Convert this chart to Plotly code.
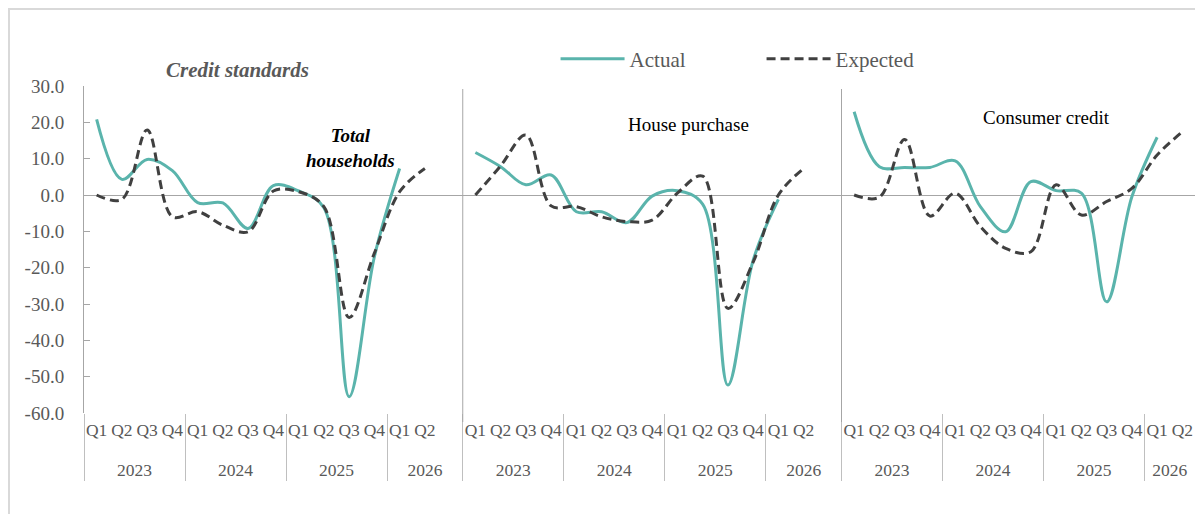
import plotly.graph_objects as go

# ---- data ----
quarters = ["Q1", "Q2", "Q3", "Q4", "Q1", "Q2", "Q3", "Q4", "Q1", "Q2", "Q3", "Q4", "Q1", "Q2"]
years = ["2023"] * 4 + ["2024"] * 4 + ["2025"] * 4 + ["2026"] * 2
panel_names = ["Total households", "House purchase", "Consumer credit"]

actual_total = [20.8, 4.3, 9.8, 6.7, -2.1, -2.2, -9.2, 2.6, 1.1, -3.5, -55.5, -17.0, 7.3]
expected_total = [0.0, -1.2, 17.9, -6.0, -4.6, -8.3, -10.1, 1.1, 0.9, -3.2, -33.7, -16.0, 0.9, 7.3]

actual_house = [11.7, 7.8, 2.8, 5.5, -4.6, -4.6, -7.6, -0.3, 1.2, -2.5, -52.3, -18.0, -1.2]
expected_house = [0.0, 8.0, 16.5, -3.0, -3.2, -6.0, -7.3, -6.9, 0.5, 5.2, -31.2, -18.5, 0.0, 7.3]

actual_consumer = [22.9, 7.8, 7.6, 7.6, 9.4, -3.2, -10.1, 3.7, 1.2, 0.5, -29.4, -0.5, 15.9]
expected_consumer = [0.0, -0.6, 15.3, -5.8, 0.5, -8.7, -14.7, -15.6, 2.8, -5.5, -1.8, 1.8, 11.0, 17.4]

y_ticks = [30, 20, 10, 0, -10, -20, -30, -40, -50, -60]
y_tick_labels = ["30.0", "20.0", "10.0", "0.0", "-10.0", "-20.0", "-30.0", "-40.0", "-50.0", "-60.0"]

# ---- build one long multicategory axis: 3 panels, blank slot between panels ----
actual_sets = [actual_total, actual_house, actual_consumer]
expected_sets = [expected_total, expected_house, expected_consumer]

x_year, x_quarter, y_act, y_exp = [], [], [], []
for p in range(3):
    suffix = "\u200b" * p  # invisible suffix keeps panels' categories distinct
    for i, (yr, q) in enumerate(zip(years, quarters)):
        x_year.append("<br>" + yr + suffix)   # leading break drops the year row lower
        x_quarter.append(q)
        a = actual_sets[p]
        y_act.append(a[i] if i < len(a) else None)
        y_exp.append(expected_sets[p][i])
    if p < 2:
        x_year.append("<br>" + years[-1] + suffix)
        x_quarter.append("\u00a0")
        y_act.append(None)
        y_exp.append(None)

n_cat = len(x_year)

TEAL = "#5AB4AC"
DARK = "#404040"
GREY_TXT = "#595959"
FONT = "Liberation Serif"

fig = go.Figure()
fig.add_trace(go.Scatter(
    x=[x_year, x_quarter], y=y_act, name="Actual", mode="lines",
    line=dict(color=TEAL, width=3, shape="spline", smoothing=1.0),
    connectgaps=False,
))
fig.add_trace(go.Scatter(
    x=[x_year, x_quarter], y=y_exp, name="Expected", mode="lines",
    line=dict(color=DARK, width=3, dash="9px,5px", shape="spline", smoothing=1.0),
    connectgaps=False,
))

# page has an 8px body margin: figure coords = page coords - 8
OFF = 8
W, H = 1187, 506
L, T = 84 - OFF, 86 - OFF
R = 0
B = H - (413 - OFF)
pw, ph = W - L - R, H - T - B

def px(page_x):
    return (page_x - OFF - L) / pw

def py(page_y):
    return (H - B - (page_y - OFF)) / ph

shapes = []
# panel separators (between panels: after the blank slot)
for k in (1, 2):
    xf = (15 * k) / n_cat
    shapes.append(dict(type="line", xref="paper", yref="paper", x0=xf, x1=xf,
                       y0=py(422), y1=py(89), line=dict(color="#a6a6a6", width=1)))
# outer frame
shapes.append(dict(type="rect", xref="paper", yref="paper", x0=px(9), x1=px(1300),
                   y0=py(700), y1=py(9), line=dict(color="#d9d9d9", width=2),
                   fillcolor="rgba(0,0,0,0)", layer="below"))

annotations = [
    dict(text="<b><i>Credit standards</i></b>", x=px(237), y=py(70),
         font=dict(family=FONT, size=21, color=GREY_TXT)),
    dict(text="<b><i>Total<br>households</i></b>", x=px(350), y=py(148),
         font=dict(family=FONT, size=19, color="#000000")),
    dict(text=panel_names[1], x=px(688), y=py(125),
         font=dict(family=FONT, size=19, color="#000000")),
    dict(text=panel_names[2], x=px(1046), y=py(117),
         font=dict(family=FONT, size=19, color="#000000")),
]
for a in annotations:
    a.update(xref="paper", yref="paper", showarrow=False, xanchor="center", yanchor="middle")

fig.update_layout(
    width=W, height=H,
    margin=dict(l=L, r=R, t=T, b=B, autoexpand=False),
    paper_bgcolor="white", plot_bgcolor="white",
    font=dict(family=FONT, color=GREY_TXT),
    showlegend=True,
    legend=dict(orientation="h", x=px(560) - 0.004, y=py(59), xanchor="left", yanchor="middle",
                font=dict(family=FONT, size=21, color=GREY_TXT), bgcolor="rgba(0,0,0,0)",
                itemwidth=64, entrywidth=127, tracegroupgap=0),
    shapes=shapes,
    annotations=annotations,
)
fig.update_xaxes(
    type="multicategory", showgrid=False, showline=False, zeroline=False,
    tickfont=dict(family=FONT, size=17.5, color=GREY_TXT), tickangle=0,
    showdividers=True, dividercolor="#bfbfbf", dividerwidth=1,
    ticks="", range=[-0.5, n_cat - 0.5], automargin=False,
    ticklabelstandoff=4,
)
fig.update_yaxes(
    range=[-60, 30], tickvals=y_ticks, ticktext=y_tick_labels,
    showgrid=False, showline=True, linecolor="#a6a6a6", linewidth=1,
    ticks="inside", ticklen=6, tickcolor="#a6a6a6",
    zeroline=True, zerolinecolor="#a6a6a6", zerolinewidth=1,
    tickfont=dict(family=FONT, size=19, color=GREY_TXT),
    ticklabelstandoff=15, automargin=False,
)

fig.write_html("out.html")
